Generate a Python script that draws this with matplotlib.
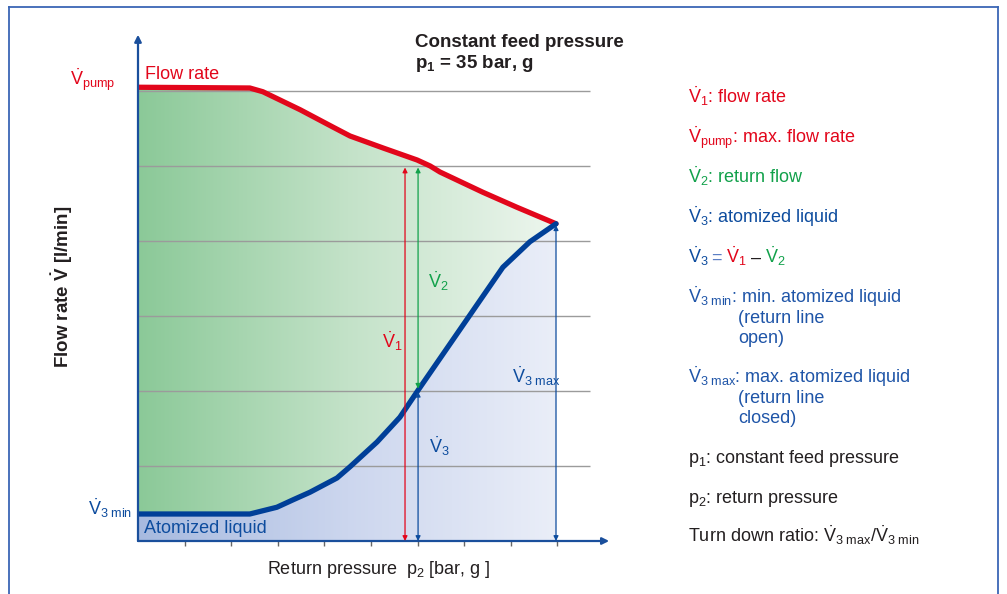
import matplotlib.pyplot as plt
import numpy as np
from matplotlib.colors import LinearSegmentedColormap
from matplotlib.patches import Polygon
from matplotlib.lines import Line2D

plt.rcParams['font.family'] = ['Liberation Sans', 'DejaVu Sans']
plt.rcParams['mathtext.fontset'] = 'custom'
plt.rcParams['mathtext.rm'] = 'Liberation Sans'
plt.rcParams['mathtext.it'] = 'Liberation Sans'
plt.rcParams['mathtext.bf'] = 'Liberation Sans:bold'

# flow rate curve (V1) and atomized liquid curve (V3)
p2_flow = [0, 2.40, 2.68, 3.48, 4.18, 4.55, 5.26, 5.99, 6.27, 6.48, 7.40, 8.13, 8.97]
flow_rate = [6.05, 6.04, 5.99, 5.75, 5.52, 5.40, 5.24, 5.08, 5.00, 4.92, 4.65, 4.45, 4.23]
p2_atom = [0, 2.40, 2.98, 3.33, 3.69, 4.27, 4.55, 5.13, 5.62, 6.01, 7.12, 7.83, 8.41, 8.97]
atomized = [0.36, 0.36, 0.45, 0.55, 0.65, 0.84, 0.99, 1.32, 1.65, 2.01, 3.01, 3.65, 3.99, 4.23]
grid_levels = [1, 2, 3, 4, 5, 6]
x_ticks = [1, 2, 3, 4, 5, 6, 7, 8, 9]
# operating point
op_p2 = 6.01
op_v1_x = 5.73
v1_top = 4.98
v3_op = 2.01
p2_max = 8.97
v3_max = 4.23

red = '#e2061b'
green = '#12a14b'
blue = '#0d4c9e'
lblue = '#1f55a8'
dark = '#231f20'

W, H = 1007, 594
fig = plt.figure(figsize=(W / 100, H / 100), dpi=100)
sx, sy = 46.6, 75.0
ax = fig.add_axes([138 / W, (H - 541) / H, 10.4 * sx / W, 6.9 * sy / H])
ax.set_xlim(0, 10.4)
ax.set_ylim(0, 6.9)
ax.axis('off')


def fx(px):
    return px / W


def fy(py):
    return 1 - py / H


# gradient fills
green_poly = Polygon(list(zip(p2_flow, flow_rate)) + list(zip(p2_atom, atomized))[::-1],
                     closed=True, fc='none', ec='none')
blue_poly = Polygon(list(zip(p2_atom, atomized)) + [(p2_max, 0), (0, 0)],
                    closed=True, fc='none', ec='none')
ax.add_patch(green_poly)
ax.add_patch(blue_poly)
grad = np.linspace(0, 1, 256).reshape(1, -1)
cm_green = LinearSegmentedColormap.from_list('g', ['#8bc998', '#c3e2c8', '#edf6ee'])
cm_blue = LinearSegmentedColormap.from_list('b', ['#a7badf', '#ccd6ee', '#eaeef8'])
im1 = ax.imshow(grad, cmap=cm_green, extent=(0, p2_max, 0, 6.2), aspect='auto',
                interpolation='bicubic', zorder=1)
im1.set_clip_path(green_poly)
im2 = ax.imshow(grad, cmap=cm_blue, extent=(0, p2_max, 0, 6.2), aspect='auto',
                interpolation='bicubic', zorder=1)
im2.set_clip_path(blue_poly)
ax.set_xlim(0, 10.4)
ax.set_ylim(0, 6.9)

# grid lines
ax.hlines(grid_levels, 0, 9.7, color='#9b9b9b', lw=1.0, zorder=2)

# curves
ax.plot(p2_flow, flow_rate, color=red, lw=3.8, solid_capstyle='round',
        solid_joinstyle='round', zorder=4)
ax.plot(p2_atom, atomized, color='#003f98', lw=3.8, solid_capstyle='round',
        solid_joinstyle='round', zorder=5)

# axes with arrows
ax.annotate('', xy=(0, 6.75), xytext=(0, 0), annotation_clip=False,
            arrowprops=dict(arrowstyle='-|>', color='#1a4f9c', lw=1.6, mutation_scale=10,
                            shrinkA=0, shrinkB=0), zorder=6)
ax.annotate('', xy=(10.11, 0), xytext=(0, 0), annotation_clip=False,
            arrowprops=dict(arrowstyle='-|>', color='#1a4f9c', lw=1.6, mutation_scale=10,
                            shrinkA=0, shrinkB=0), zorder=6)
ax.vlines(x_ticks, -0.06, 0, color='#666666', lw=1.0, clip_on=False)


def darrow(x, y0, y1, c):
    ax.annotate('', xy=(x, y1), xytext=(x, y0), annotation_clip=False,
                arrowprops=dict(arrowstyle='<|-|>', color=c, lw=0.9, mutation_scale=7,
                                shrinkA=0, shrinkB=0), zorder=6)


darrow(op_v1_x, 0, v1_top, red)
darrow(op_p2, v3_op + 0.02, v1_top, green)
darrow(op_p2, 0, v3_op - 0.02, blue)
darrow(p2_max, 0, v3_max - 0.02, blue)

fs = 13
ax.text(6.23, 3.37, r'$\dot{V}_2$', color=green, fontsize=fs, va='baseline')
ax.text(5.24, 2.57, r'$\dot{V}_1$', color=red, fontsize=fs, va='baseline')
ax.text(8.03, 2.11, r'$\dot{V}_{3\ max}$', color=blue, fontsize=fs, va='baseline')
ax.text(6.24, 1.17, r'$\dot{V}_3$', color=blue, fontsize=fs, va='baseline')
ax.text(0.15, 6.16, 'Flow rate', color=red, fontsize=fs, va='baseline')
ax.text(-0.49, 6.08, r'$\dot{V}_{pump}$', color=red, fontsize=fs, va='baseline', ha='right')
ax.text(-0.13, 0.35, r'$\dot{V}_{3\ min}$', color=blue, fontsize=fs, va='baseline', ha='right')
ax.text(0.13, 0.11, 'Atomized liquid', color=blue, fontsize=fs, va='baseline', zorder=7)

# titles and axis labels
fig.text(fx(415), fy(47), 'Constant feed pressure', color=dark, fontsize=13.5,
         fontweight='bold', va='baseline')
fig.text(fx(415), fy(68), r'p$_{\mathbf{1}}$ = 35 bar, g', color=dark, fontsize=13.5,
         fontweight='bold', va='baseline')
fig.text(fx(267), fy(574), r'Return pressure  p$_2$ [bar, g ]', color=dark, fontsize=fs,
         va='baseline')
fig.text(fx(62), fy(287), r'Flow rate $\mathbf{\dot{V}}$ [l/min]', color=dark, fontsize=13.5,
         fontweight='bold', rotation=90, ha='center', va='center')

# explanation column
lx = 688
ix = 738
fig.text(fx(lx), fy(103), r'$\dot{V}_1$: flow rate', color=red, fontsize=fs, va='baseline')
fig.text(fx(lx), fy(143), r'$\dot{V}_{pump}$: max. flow rate', color=red, fontsize=fs, va='baseline')
fig.text(fx(lx), fy(183), r'$\dot{V}_2$: return flow', color=green, fontsize=fs, va='baseline')
fig.text(fx(lx), fy(223), r'$\dot{V}_3$: atomized liquid', color=blue, fontsize=fs, va='baseline')
fig.text(fx(lx), fy(263), r'$\dot{V}_3$', color=blue, fontsize=fs, va='baseline')
fig.text(fx(711), fy(263), '=', color='#5b7fc4', fontsize=fs, va='baseline')
fig.text(fx(726), fy(263), r'$\dot{V}_1$', color=red, fontsize=fs, va='baseline')
fig.text(fx(751), fy(263), '\u2013', color=dark, fontsize=fs, va='baseline')
fig.text(fx(765), fy(263), r'$\dot{V}_2$', color=green, fontsize=fs, va='baseline')
fig.text(fx(lx), fy(303), r'$\dot{V}_{3\ min}$: min. atomized liquid', color=lblue, fontsize=fs,
         va='baseline')
fig.text(fx(ix), fy(323), '(return line', color=lblue, fontsize=fs, va='baseline')
fig.text(fx(ix), fy(343), 'open)', color=lblue, fontsize=fs, va='baseline')
fig.text(fx(lx), fy(383), r'$\dot{V}_{3\ max}$: max. atomized liquid', color=lblue, fontsize=fs,
         va='baseline')
fig.text(fx(ix), fy(403), '(return line', color=lblue, fontsize=fs, va='baseline')
fig.text(fx(ix), fy(423), 'closed)', color=lblue, fontsize=fs, va='baseline')
fig.text(fx(lx), fy(463), r'p$_1$: constant feed pressure', color=dark, fontsize=fs, va='baseline')
fig.text(fx(lx), fy(503), r'p$_2$: return pressure', color=dark, fontsize=fs, va='baseline')
fig.text(fx(lx), fy(542), r'Turn down ratio: $\dot{V}_{3\ max}$/$\dot{V}_{3\ min}$', color=dark,
         fontsize=fs, va='baseline')

# outer frame
frame = '#3a66b5'
fig.add_artist(Line2D([fx(9), fx(9)], [fy(7), 0], transform=fig.transFigure, color=frame, lw=1.3))
fig.add_artist(Line2D([fx(9), fx(998)], [fy(7), fy(7)], transform=fig.transFigure, color=frame, lw=1.3))
fig.add_artist(Line2D([fx(998), fx(998)], [fy(7), 0], transform=fig.transFigure, color=frame, lw=1.3))

plt.savefig('out.png', dpi=100)
